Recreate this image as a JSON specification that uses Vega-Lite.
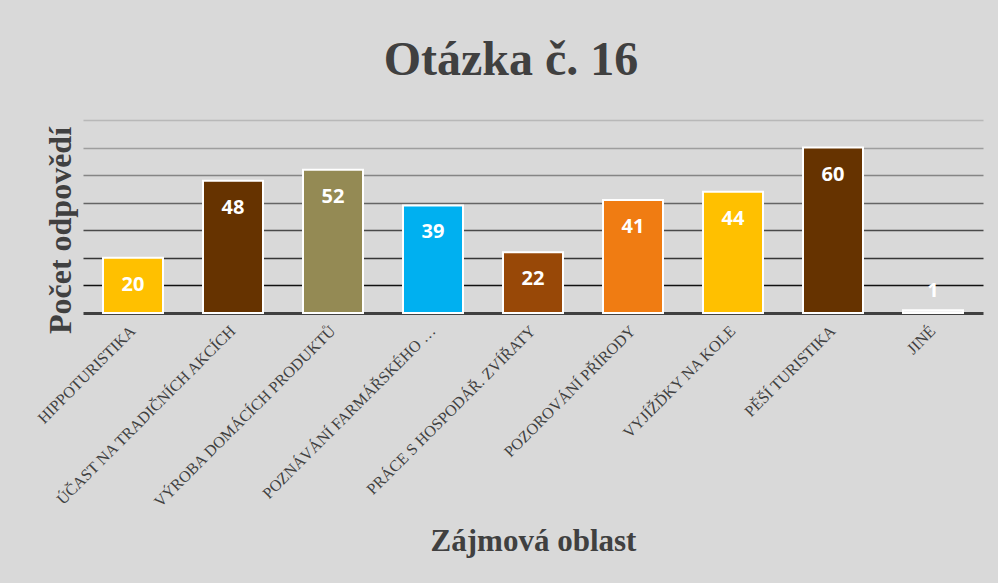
{
  "$schema": "https://vega.github.io/schema/vega-lite/v6.json",
  "width": 900,
  "height": 193,
  "autosize": "none",
  "padding": {"left": 83, "top": 120, "right": 15, "bottom": 270},
  "background": "#d9d9d9",
  "title": {
    "text": "Otázka č. 16",
    "font": "Liberation Serif",
    "fontSize": 48,
    "fontWeight": "bold",
    "color": "#404040",
    "anchor": "middle",
    "frame": "group",
    "baseline": "alphabetic",
    "offset": -3,
    "dx": -22
  },
  "data": {
    "values": [
      {"oblast": "HIPPOTURISTIKA", "pocet": 20},
      {"oblast": "ÚČAST NA TRADIČNÍCH AKCÍCH", "pocet": 48},
      {"oblast": "VÝROBA DOMÁCÍCH PRODUKTŮ", "pocet": 52},
      {"oblast": "POZNÁVÁNÍ FARMÁŘSKÉHO …", "pocet": 39},
      {"oblast": "PRÁCE S HOSPODÁŘ. ZVÍŘATY", "pocet": 22},
      {"oblast": "POZOROVÁNÍ PŘÍRODY", "pocet": 41},
      {"oblast": "VYJÍŽĎKY NA KOLE", "pocet": 44},
      {"oblast": "PĚŠÍ TURISTIKA", "pocet": 60},
      {"oblast": "JINÉ", "pocet": 1}
    ]
  },
  "encoding": {
    "x": {
      "field": "oblast",
      "type": "nominal",
      "sort": null,
      "scale": {"paddingInner": 0.4, "paddingOuter": 0.2},
      "axis": {
        "title": "Zájmová oblast",
        "titleFont": "Liberation Serif",
        "titleFontSize": 31,
        "titleFontWeight": "bold",
        "titleColor": "#404040",
        "titleY": 237,
        "titleBaseline": "alphabetic",
        "labelAngle": -45,
        "labelAlign": "right",
        "labelBaseline": "middle",
        "labelFont": "Liberation Serif",
        "labelFontSize": 16,
        "labelColor": "#404040",
        "labelPadding": 15,
        "labelLimit": 0,
        "ticks": false,
        "domainColor": "#404040",
        "domainWidth": 3,
        "grid": false
      }
    },
    "y": {
      "field": "pocet",
      "type": "quantitative",
      "scale": {"domain": [0, 70], "nice": false},
      "axis": {
        "title": "Počet odpovědí",
        "titleFont": "Liberation Serif",
        "titleFontSize": 32,
        "titleFontWeight": "bold",
        "titleColor": "#404040",
        "titleAngle": -90,
        "titleX": -13,
        "titleY": 110,
        "titleAlign": "center",
        "titleBaseline": "alphabetic",
        "values": [10, 20, 30, 40, 50, 60, 70],
        "labels": false,
        "ticks": false,
        "domain": false,
        "grid": true,
        "gridWidth": 1.5,
        "gridColor": {
          "condition": [
            {"test": "datum.value <= 10", "value": "#111111"},
            {"test": "datum.value <= 20", "value": "#363636"},
            {"test": "datum.value <= 30", "value": "#4a4a4a"},
            {"test": "datum.value <= 40", "value": "#656565"},
            {"test": "datum.value <= 50", "value": "#858585"},
            {"test": "datum.value <= 60", "value": "#9e9e9e"}
          ],
          "value": "#b8b8b8"
        }
      }
    }
  },
  "layer": [
    {
      "mark": {"type": "bar", "stroke": "#ffffff", "strokeWidth": 2},
      "encoding": {
        "color": {
          "field": "oblast",
          "type": "nominal",
          "legend": null,
          "scale": {
            "domain": ["HIPPOTURISTIKA", "ÚČAST NA TRADIČNÍCH AKCÍCH", "VÝROBA DOMÁCÍCH PRODUKTŮ", "POZNÁVÁNÍ FARMÁŘSKÉHO …", "PRÁCE S HOSPODÁŘ. ZVÍŘATY", "POZOROVÁNÍ PŘÍRODY", "VYJÍŽĎKY NA KOLE", "PĚŠÍ TURISTIKA", "JINÉ"],
            "range": ["#ffc000", "#663300", "#948a54", "#00b0f0", "#984807", "#f07c12", "#ffc000", "#663300", "#f2f2f2"]
          }
        }
      }
    },
    {
      "transform": [{"filter": "datum.pocet >= 5"}],
      "mark": {"type": "text", "color": "#ffffff", "font": "Open Sans", "fontWeight": "bold", "fontSize": 20, "baseline": "middle", "dy": 27},
      "encoding": {"text": {"field": "pocet", "type": "quantitative"}}
    },
    {
      "transform": [{"filter": "datum.pocet < 5"}],
      "mark": {"type": "text", "color": "#ffffff", "font": "Open Sans", "fontWeight": "bold", "fontSize": 20, "baseline": "middle", "dy": -19},
      "encoding": {"text": {"field": "pocet", "type": "quantitative"}}
    }
  ],
  "config": {"view": {"stroke": null}}
}
